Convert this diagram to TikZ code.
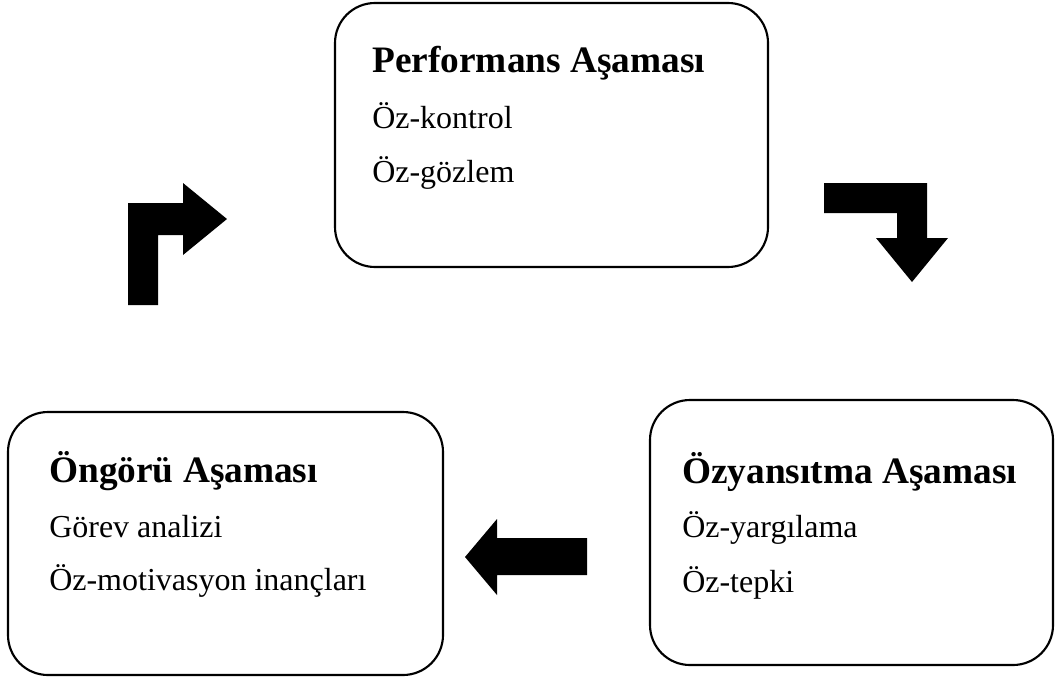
\documentclass[tikz,border=0pt]{standalone}
\usepackage{fontspec}
\setmainfont{Liberation Serif}
\begin{document}
\begin{tikzpicture}[x=0.75pt,y=-0.75pt,
  phase/.style={draw=black, line width=1.6pt, rounded corners=30pt, inner sep=0pt, outer sep=0pt},
  title/.style={anchor=base west, inner sep=0pt, font=\fontsize{28}{32}\selectfont\bfseries},
  item/.style={anchor=base west, inner sep=0pt, font=\fontsize{24}{28}\selectfont},
  blockarrow/.style={fill=black, draw=none}]
\useasboundingbox (0,0) rectangle (1055,678);

% Phase boxes
\node[phase, minimum width=324.75pt, minimum height=198pt] (perf) at (551.5,135) {};
\node[phase, minimum width=326.25pt, minimum height=197.25pt] (ongoru) at (225.5,543.5) {};
\node[phase, minimum width=302.25pt, minimum height=198.75pt] (ozyans) at (851.5,532.5) {};

% Performance phase
\node[title] (perfT) at (372,72) {Performans Aşaması};
\node[item] (perf1) at (372,128) {Öz-kontrol};
\node[item] (perf2) at (372,182) {Öz-gözlem};

% Forethought phase
\node[title] (onT) at (49,482) {Öngörü Aşaması};
\node[item] (on1) at (49,537) {Görev analizi};
\node[item] (on2) at (49,590) {Öz-motivasyon inançları};

% Self-reflection phase
\node[title] (ozT) at (682,483) {Özyansıtma Aşaması};
\node[item] (oz1) at (682,537) {Öz-yargılama};
\node[item] (oz2) at (682,592) {Öz-tepki};

% Block arrows of the cycle
\fill[blockarrow] (128,305) -- (128,203) -- (183,203) -- (183,183) -- (227,219)
  -- (183,255) -- (183,235) -- (158,235) -- (158,305) -- cycle;
\fill[blockarrow] (824,183) -- (927,183) -- (927,238) -- (948,238) -- (912,282)
  -- (876,238) -- (897,238) -- (897,213) -- (824,213) -- cycle;
\fill[blockarrow] (587,538) -- (497,538) -- (497,519) -- (465,557) -- (497,595)
  -- (497,575) -- (587,575) -- cycle;
\end{tikzpicture}
\end{document}
